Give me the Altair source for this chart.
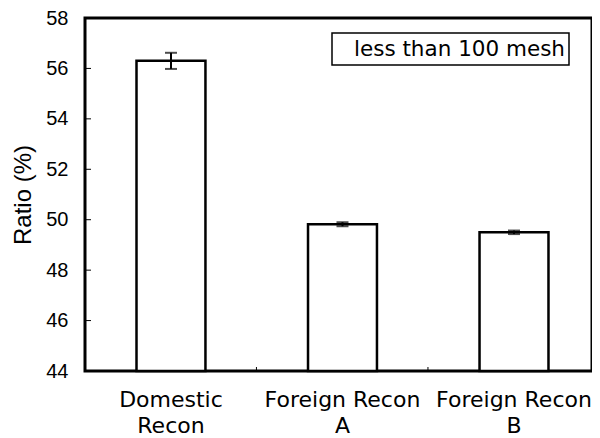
import altair as alt
import pandas as pd

categories = ["Domestic\nRecon", "Foreign Recon\nA", "Foreign Recon\nB"]
ratios = [56.3, 49.82, 49.5]
errors = [0.32, 0.08, 0.07]
y_ticks = [44, 46, 48, 50, 52, 54, 56, 58]
legend_text = ["less than 100 mesh"]

df = pd.DataFrame({"cat": categories, "ratio": ratios, "err": errors})
df["lo"] = df["ratio"] - df["err"]
df["hi"] = df["ratio"] + df["err"]

W, H = 507, 353
xscale = alt.Scale(domain=categories, paddingInner=0.598, paddingOuter=0.277, align=0.542)
yscale = alt.Scale(domain=[44, 58], nice=False, zero=False)

x_axis = alt.Axis(
    title=None, labelExpr="split(datum.value, '\\n')", labelFont="DejaVu Sans",
    labelFontSize=22, labelColor="black", labelPadding=18, labelLineHeight=26,
    ticks=False, tickSize=0, domain=False, labelAngle=0, grid=False,
)
y_axis = alt.Axis(
    title="Ratio (%)", values=y_ticks, labelFont="Liberation Sans", labelFontSize=20,
    labelColor="black", labelPadding=17, ticks=False, tickSize=0, domain=False,
    grid=False, labelFlush=False, labelOverlap=False,
    titleFont="Liberation Sans", titleFontSize=24, titleFontWeight="normal",
    titleColor="black", titleAngle=-90, titleX=-55, titleY=H / 2,
    titleAlign="center", titleBaseline="alphabetic",
)

X = lambda f, **kw: alt.X(f, scale=xscale, sort=categories, axis=x_axis, **kw)
Y = lambda f: alt.Y(f, scale=yscale, axis=y_axis)

base = alt.Chart(df)
bars = base.mark_bar(fill="white", stroke="black", strokeWidth=2.5).encode(
    x=X("cat:N"), y=Y("ratio:Q"), y2=alt.datum(44),
)
err_rule = base.mark_rule(color="black", strokeWidth=2).encode(
    x=X("cat:N"), y=Y("lo:Q"), y2="hi:Q",
)
cap_lo = base.mark_tick(color="black", thickness=2, size=12).encode(x=X("cat:N"), y=Y("lo:Q"))
cap_hi = base.mark_tick(color="black", thickness=2, size=12).encode(x=X("cat:N"), y=Y("hi:Q"))

yt = alt.Chart(pd.DataFrame({"t": y_ticks[1:-1]})).mark_rule(color="black", strokeWidth=1).encode(
    y=Y("t:Q"), x=alt.value(0), x2=alt.value(6),
)
xt = alt.Chart(pd.DataFrame({"cat": categories[:-1]})).mark_rule(
    color="black", strokeWidth=1, xOffset=51
).encode(
    x=X("cat:N", bandPosition=1), y=alt.value(H), y2=alt.value(H - 4),
)

leg = alt.Chart(pd.DataFrame({"t": legend_text}))
leg_box = leg.mark_rect(fill="white", stroke="black", strokeWidth=1.5).encode(
    x=alt.value(247), x2=alt.value(484), y=alt.value(15), y2=alt.value(47),
)
leg_txt = leg.mark_text(align="left", baseline="middle", font="DejaVu Sans", fontSize=21.5, color="black").encode(
    x=alt.value(269), y=alt.value(32), text="t:N",
)

chart = alt.layer(bars, err_rule, cap_lo, cap_hi, yt, xt, leg_box, leg_txt).properties(
    width=W, height=H, autosize="none",
    padding={"left": 77, "top": 10, "right": 0, "bottom": 66},
).configure(background="white").configure_view(stroke="black", strokeWidth=3)

chart.save("out.html", embed_options={"renderer": "svg", "actions": False})
